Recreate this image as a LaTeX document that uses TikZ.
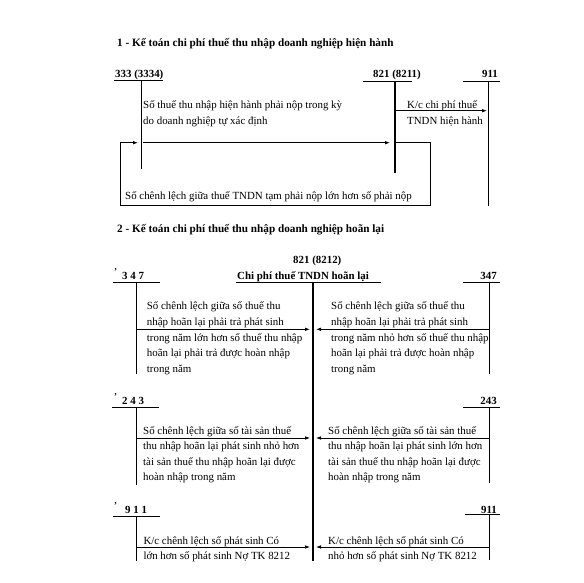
\documentclass[tikz,border=0pt]{standalone}
\usepackage{fontspec}
\setmainfont{Liberation Serif}
\usetikzlibrary{arrows.meta}
\begin{document}
\begin{tikzpicture}[x=1pt,y=-1pt,
  txt/.style={anchor=base west, inner sep=0pt, align=left, font=\fontsize{10.9}{15.8}\selectfont},
  txtb/.style={txt, font=\fontsize{10.9}{15.5}\selectfont},
  lbl/.style={anchor=base west, inner sep=0pt, font=\fontsize{10.9}{13}\selectfont\bfseries},
  lblr/.style={lbl, anchor=base east},
  ttl/.style={anchor=base west, inner sep=0pt, font=\fontsize{11.2}{13}\selectfont\bfseries},
  tick/.style={anchor=base west, inner sep=0pt, font=\fontsize{9}{10}\selectfont\bfseries},
  thin/.style={line width=0.8pt},
  thick/.style={line width=1.5pt},
  arr/.style={-{Latex[length=5pt,width=3.6pt]}, line width=0.8pt},
]
\useasboundingbox[fill=white] (0,0) rectangle (584,583);

% ---------- Section 1 ----------
\node[ttl] (t1) at (117,47) {1 - Kế toán chi phí thuế thu nhập doanh nghiệp hiện hành};
\node[lbl] (a333) at (115,77.5) {333 (3334)};
\node[lbl] (a821) at (373,77.5) {821 (8211)};
\node[lblr] (a911) at (498,77.5) {911};

\coordinate (u333a) at (114,80.7);  \coordinate (u333b) at (163,80.7);
\coordinate (u821a) at (363,81);    \coordinate (u821b) at (412,81);
\coordinate (u911a) at (463,81);    \coordinate (u911b) at (500,81);
\draw[thin] (u333a) -- (u333b);
\draw[thin] (u821a) -- (u821b);
\draw[thin] (u911a) -- (u911b);

\coordinate (v333t) at (141,80.7); \coordinate (v333b) at (141,169);
\coordinate (v821t) at (395,81);   \coordinate (v821b) at (395,172.7);
\coordinate (v911t) at (488,81);   \coordinate (v911b) at (488,206);
\draw[thin] (v333t) -- (v333b);
\draw[thick] (v821t) -- (v821b);
\draw[thin] (v911t) -- (v911b);

% multi-line nodes: the base anchor is the baseline of the LAST line
\node[txt] (s1) at (143,124.1) {Số thuế thu nhập hiện hành phải nộp trong kỳ\\do doanh nghiệp tự xác định};
\node[txt] (s2) at (407,124.1) {K/c chi phí thuế\\TNDN hiện hành};
\node[txt] (s3) at (125,199.3) {Số chênh lệch giữa thuế TNDN tạm phải nộp lớn hơn số phải nộp};

\coordinate (m1a) at (143,142.7); \coordinate (m1b) at (390,142.7);
\draw[arr] (m1a) -- (m1b);
\coordinate (k1a) at (395,110.7); \coordinate (k1b) at (487,110.7);
\draw[arr] (k1a) -- (k1b);
\coordinate (l1) at (395,142.7); \coordinate (l2) at (430,142.7);
\coordinate (l3) at (430,205);   \coordinate (l4) at (120,205);
\coordinate (l5) at (120,142.7); \coordinate (l6) at (138,142.7);
\draw[thin] (l1) -- (l2) -- (l3) -- (l4) -- (l5);
\draw[arr] (l5) -- (l6);

% ---------- Section 2 ----------
\node[ttl] (t2) at (117,233) {2 - Kế toán chi phí thuế thu nhập doanh nghiệp hoãn lại};
\node[lbl] (c821) at (293,263.5) {821 (8212)};
\node[lbl] (c821n) at (237,279) {Chi phí thuế TNDN hoãn lại};
\coordinate (uca) at (236,282.3); \coordinate (ucb) at (381,282.3);
\draw[thin] (uca) -- (ucb);
\coordinate (vct) at (313,282.3); \coordinate (vcb) at (313,561);
\draw[thick] (vct) -- (vcb);

% Row 1 : 347
\node[tick] (k347) at (114,274) {’};
\node[lbl] (l347) at (122,279) {3 4 7};
\node[lblr] (r347) at (497,279) {347};
\coordinate (ul1a) at (112.7,282.3); \coordinate (ul1b) at (160,282.3);
\coordinate (ur1a) at (463,282.3);   \coordinate (ur1b) at (500,282.3);
\draw[thin] (ul1a) -- (ul1b);
\draw[thin] (ur1a) -- (ur1b);
\coordinate (vl1t) at (136,282.3); \coordinate (vl1b) at (136,374);
\coordinate (vr1t) at (489,282.3); \coordinate (vr1b) at (489,374);
\draw[thin] (vl1t) -- (vl1b);
\draw[thin] (vr1t) -- (vr1b);
\node[txt] (x1l) at (146.7,372.7) {Số chênh lệch giữa số thuế thu\\nhập hoãn lại phải trả phát sinh\\trong năm lớn hơn số thuế thu nhập\\hoãn lại phải trả được hoàn nhập\\trong năm};
\node[txt] (x1r) at (331,372.7) {Số chênh lệch giữa số thuế thu\\nhập hoãn lại phải trả phát sinh\\trong năm nhỏ hơn số thuế thu nhập\\hoãn lại phải trả được hoàn nhập\\trong năm};
\coordinate (a1l) at (136,329.3); \coordinate (a1c) at (310,329.3);
\coordinate (a1r) at (489,329.3); \coordinate (a1d) at (316,329.3);
\draw[arr] (a1l) -- (a1c);
\draw[arr] (a1r) -- (a1d);

% Row 2 : 243
\node[tick] (k243) at (114,399) {’};
\node[lbl] (l243) at (122,404) {2 4 3};
\node[lblr] (r243) at (497,404) {243};
\coordinate (ul2a) at (112,407.3); \coordinate (ul2b) at (159,407.3);
\coordinate (ur2a) at (463,407.3); \coordinate (ur2b) at (500,407.3);
\draw[thin] (ul2a) -- (ul2b);
\draw[thin] (ur2a) -- (ur2b);
\coordinate (vl2t) at (136,407.3); \coordinate (vl2b) at (136,485);
\coordinate (vr2t) at (489,407.3); \coordinate (vr2b) at (489,483);
\draw[thin] (vl2t) -- (vl2b);
\draw[thin] (vr2t) -- (vr2b);
\node[txtb] (x2l) at (143,480.5) {Số chênh lệch giữa số tài sản thuế\\thu nhập hoãn lại phát sinh nhỏ hơn\\tài sản thuế thu nhập hoãn lại được\\hoàn nhập trong năm};
\node[txtb] (x2r) at (328,480.5) {Số chênh lệch giữa số tài sản thuế\\thu nhập hoãn lại phát sinh lớn hơn\\tài sản thuế thu nhập hoãn lại được\\hoàn nhập trong năm};
\coordinate (a2l) at (136,438); \coordinate (a2c) at (310,438);
\coordinate (a2r) at (489,438); \coordinate (a2d) at (316,438);
\draw[arr] (a2l) -- (a2c);
\draw[arr] (a2r) -- (a2d);

% Row 3 : 911
\node[tick] (k911) at (114,508) {’};
\node[lbl] (l911) at (125,513) {9 1 1};
\node[lblr] (r911) at (497,513) {911};
\coordinate (ul3a) at (112.7,516); \coordinate (ul3b) at (160,516);
\coordinate (ur3a) at (465,514);   \coordinate (ur3b) at (500,514);
\draw[thin] (ul3a) -- (ul3b);
\draw[thin] (ur3a) -- (ur3b);
\coordinate (vl3t) at (136,516); \coordinate (vl3b) at (136,561);
\coordinate (vr3t) at (489,514); \coordinate (vr3b) at (489,560);
\draw[thin] (vl3t) -- (vl3b);
\draw[thin] (vr3t) -- (vr3b);
\node[txt] (x3l) at (143.3,559.8) {K/c chênh lệch số phát sinh Có\\lớn hơn số phát sinh Nợ TK 8212};
\node[txt] (x3r) at (328,559.8) {K/c chênh lệch số phát sinh Có\\nhỏ hơn số phát sinh Nợ TK 8212};
\coordinate (a3l) at (136,547); \coordinate (a3c) at (310,547);
\coordinate (a3r) at (489,547); \coordinate (a3d) at (316,547);
\draw[arr] (a3l) -- (a3c);
\draw[arr] (a3r) -- (a3d);
\end{tikzpicture}
\end{document}
